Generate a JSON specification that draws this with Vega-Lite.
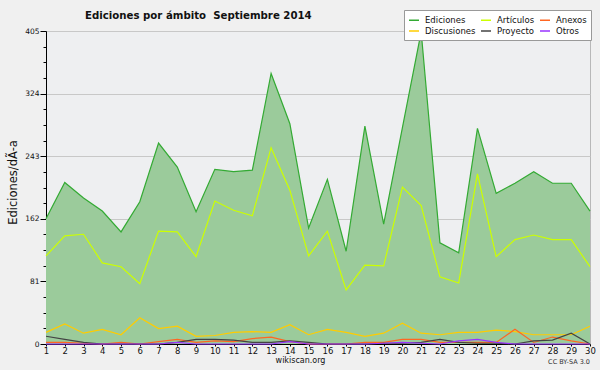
{
  "$schema": "https://vega.github.io/schema/vega-lite/v6.json",
  "width": 544,
  "height": 313,
  "autosize": "none",
  "padding": {"left": 46, "top": 31, "right": 10, "bottom": 26},
  "background": "#f0f0f0",
  "title": {
    "text": "Ediciones por ámbito\u00a0 Septiembre 2014",
    "anchor": "start",
    "frame": "group",
    "dx": 39,
    "offset": -19.5,
    "baseline": "alphabetic",
    "font": "DejaVu Sans",
    "fontSize": 10.2,
    "fontWeight": "bold",
    "color": "#111111"
  },
  "data": {
    "values": [
      {"d":1,"s":"Ediciones","v":162},{"d":2,"s":"Ediciones","v":209},{"d":3,"s":"Ediciones","v":189},{"d":4,"s":"Ediciones","v":172},{"d":5,"s":"Ediciones","v":145},{"d":6,"s":"Ediciones","v":184},{"d":7,"s":"Ediciones","v":260},{"d":8,"s":"Ediciones","v":229},{"d":9,"s":"Ediciones","v":171},{"d":10,"s":"Ediciones","v":226},{"d":11,"s":"Ediciones","v":223},{"d":12,"s":"Ediciones","v":225},{"d":13,"s":"Ediciones","v":350},{"d":14,"s":"Ediciones","v":285},{"d":15,"s":"Ediciones","v":150},{"d":16,"s":"Ediciones","v":213},{"d":17,"s":"Ediciones","v":120},{"d":18,"s":"Ediciones","v":282},{"d":19,"s":"Ediciones","v":155},{"d":20,"s":"Ediciones","v":280},{"d":21,"s":"Ediciones","v":404},{"d":22,"s":"Ediciones","v":131},{"d":23,"s":"Ediciones","v":118},{"d":24,"s":"Ediciones","v":279},{"d":25,"s":"Ediciones","v":195},{"d":26,"s":"Ediciones","v":208},{"d":27,"s":"Ediciones","v":223},{"d":28,"s":"Ediciones","v":208},{"d":29,"s":"Ediciones","v":208},{"d":30,"s":"Ediciones","v":172},
      {"d":1,"s":"Artículos","v":114},{"d":2,"s":"Artículos","v":140},{"d":3,"s":"Artículos","v":142},{"d":4,"s":"Artículos","v":105},{"d":5,"s":"Artículos","v":100},{"d":6,"s":"Artículos","v":78},{"d":7,"s":"Artículos","v":146},{"d":8,"s":"Artículos","v":145},{"d":9,"s":"Artículos","v":113},{"d":10,"s":"Artículos","v":185},{"d":11,"s":"Artículos","v":173},{"d":12,"s":"Artículos","v":166},{"d":13,"s":"Artículos","v":254},{"d":14,"s":"Artículos","v":199},{"d":15,"s":"Artículos","v":114},{"d":16,"s":"Artículos","v":146},{"d":17,"s":"Artículos","v":70},{"d":18,"s":"Artículos","v":102},{"d":19,"s":"Artículos","v":101},{"d":20,"s":"Artículos","v":203},{"d":21,"s":"Artículos","v":179},{"d":22,"s":"Artículos","v":87},{"d":23,"s":"Artículos","v":79},{"d":24,"s":"Artículos","v":220},{"d":25,"s":"Artículos","v":113},{"d":26,"s":"Artículos","v":135},{"d":27,"s":"Artículos","v":141},{"d":28,"s":"Artículos","v":135},{"d":29,"s":"Artículos","v":135},{"d":30,"s":"Artículos","v":100},
      {"d":1,"s":"Discusiones","v":15},{"d":2,"s":"Discusiones","v":26},{"d":3,"s":"Discusiones","v":14},{"d":4,"s":"Discusiones","v":19},{"d":5,"s":"Discusiones","v":12},{"d":6,"s":"Discusiones","v":34},{"d":7,"s":"Discusiones","v":20},{"d":8,"s":"Discusiones","v":23},{"d":9,"s":"Discusiones","v":10},{"d":10,"s":"Discusiones","v":11},{"d":11,"s":"Discusiones","v":15},{"d":12,"s":"Discusiones","v":16},{"d":13,"s":"Discusiones","v":15},{"d":14,"s":"Discusiones","v":25},{"d":15,"s":"Discusiones","v":12},{"d":16,"s":"Discusiones","v":19},{"d":17,"s":"Discusiones","v":15},{"d":18,"s":"Discusiones","v":10},{"d":19,"s":"Discusiones","v":14},{"d":20,"s":"Discusiones","v":27},{"d":21,"s":"Discusiones","v":14},{"d":22,"s":"Discusiones","v":12},{"d":23,"s":"Discusiones","v":15},{"d":24,"s":"Discusiones","v":15},{"d":25,"s":"Discusiones","v":18},{"d":26,"s":"Discusiones","v":16},{"d":27,"s":"Discusiones","v":12},{"d":28,"s":"Discusiones","v":12},{"d":29,"s":"Discusiones","v":12},{"d":30,"s":"Discusiones","v":23},
      {"d":1,"s":"Anexos","v":2},{"d":2,"s":"Anexos","v":2},{"d":3,"s":"Anexos","v":1},{"d":4,"s":"Anexos","v":0},{"d":5,"s":"Anexos","v":2},{"d":6,"s":"Anexos","v":0},{"d":7,"s":"Anexos","v":3},{"d":8,"s":"Anexos","v":6},{"d":9,"s":"Anexos","v":2},{"d":10,"s":"Anexos","v":4},{"d":11,"s":"Anexos","v":3},{"d":12,"s":"Anexos","v":7},{"d":13,"s":"Anexos","v":9},{"d":14,"s":"Anexos","v":3},{"d":15,"s":"Anexos","v":0},{"d":16,"s":"Anexos","v":0},{"d":17,"s":"Anexos","v":0},{"d":18,"s":"Anexos","v":2},{"d":19,"s":"Anexos","v":2},{"d":20,"s":"Anexos","v":6},{"d":21,"s":"Anexos","v":6},{"d":22,"s":"Anexos","v":2},{"d":23,"s":"Anexos","v":2},{"d":24,"s":"Anexos","v":2},{"d":25,"s":"Anexos","v":2},{"d":26,"s":"Anexos","v":19},{"d":27,"s":"Anexos","v":2},{"d":28,"s":"Anexos","v":9},{"d":29,"s":"Anexos","v":4},{"d":30,"s":"Anexos","v":0},
      {"d":1,"s":"Proyecto","v":10},{"d":2,"s":"Proyecto","v":6},{"d":3,"s":"Proyecto","v":2},{"d":4,"s":"Proyecto","v":0},{"d":5,"s":"Proyecto","v":0},{"d":6,"s":"Proyecto","v":0},{"d":7,"s":"Proyecto","v":0},{"d":8,"s":"Proyecto","v":2},{"d":9,"s":"Proyecto","v":6},{"d":10,"s":"Proyecto","v":6},{"d":11,"s":"Proyecto","v":5},{"d":12,"s":"Proyecto","v":2},{"d":13,"s":"Proyecto","v":2},{"d":14,"s":"Proyecto","v":4},{"d":15,"s":"Proyecto","v":2},{"d":16,"s":"Proyecto","v":0},{"d":17,"s":"Proyecto","v":0},{"d":18,"s":"Proyecto","v":0},{"d":19,"s":"Proyecto","v":1},{"d":20,"s":"Proyecto","v":1},{"d":21,"s":"Proyecto","v":2},{"d":22,"s":"Proyecto","v":6},{"d":23,"s":"Proyecto","v":2},{"d":24,"s":"Proyecto","v":1},{"d":25,"s":"Proyecto","v":1},{"d":26,"s":"Proyecto","v":0},{"d":27,"s":"Proyecto","v":4},{"d":28,"s":"Proyecto","v":5},{"d":29,"s":"Proyecto","v":14},{"d":30,"s":"Proyecto","v":0},
      {"d":1,"s":"Otros","v":0},{"d":2,"s":"Otros","v":0},{"d":3,"s":"Otros","v":0},{"d":4,"s":"Otros","v":0},{"d":5,"s":"Otros","v":0},{"d":6,"s":"Otros","v":0},{"d":7,"s":"Otros","v":0},{"d":8,"s":"Otros","v":2},{"d":9,"s":"Otros","v":0},{"d":10,"s":"Otros","v":0},{"d":11,"s":"Otros","v":0},{"d":12,"s":"Otros","v":0},{"d":13,"s":"Otros","v":0},{"d":14,"s":"Otros","v":3},{"d":15,"s":"Otros","v":0},{"d":16,"s":"Otros","v":0},{"d":17,"s":"Otros","v":0},{"d":18,"s":"Otros","v":0},{"d":19,"s":"Otros","v":1},{"d":20,"s":"Otros","v":2},{"d":21,"s":"Otros","v":1},{"d":22,"s":"Otros","v":0},{"d":23,"s":"Otros","v":4},{"d":24,"s":"Otros","v":6},{"d":25,"s":"Otros","v":2},{"d":26,"s":"Otros","v":0},{"d":27,"s":"Otros","v":0},{"d":28,"s":"Otros","v":0},{"d":29,"s":"Otros","v":0},{"d":30,"s":"Otros","v":0}
    ]
  },
  "layer": [
    {
      "encoding": {
        "x": {
          "field": "d", "type": "quantitative",
          "scale": {"domain": [1, 30], "nice": false},
          "axis": {
            "values": [1,2,3,4,5,6,7,8,9,10,11,12,13,14,15,16,17,18,19,20,21,22,23,24,25,26,27,28,29,30],
            "labelOverlap": false,
            "title": "wikiscan.org",
            "titleFontWeight": "normal"
          }
        },
        "y": {
          "field": "v", "type": "quantitative",
          "scale": {"domain": [0, 405], "nice": false},
          "axis": {
            "values": [0,20.25,40.5,60.75,81,101.25,121.5,141.75,162,182.25,202.5,222.75,243,263.25,283.5,303.75,324,344.25,364.5,384.75,405],
            "labelExpr": "datum.value % 81 === 0 ? datum.label : ''",
            "labelOverlap": false,
            "title": "Ediciones/dÃ-a",
            "titleFontWeight": "normal",
            "tickSize": {"condition": {"test": "datum.value % 81 === 0", "value": 6}, "value": 3},
            "gridOpacity": {"condition": {"test": "datum.value % 81 === 0", "value": 1}, "value": 0}
          }
        }
      },
      "layer": [
        {
          "transform": [{"filter": "datum.s === 'Ediciones'"}],
          "mark": {"type": "area", "fill": "#9bcb9b", "opacity": 1}
        },
        {
          "mark": {"type": "line", "strokeWidth": 1.2},
          "encoding": {
            "color": {
              "field": "s", "type": "nominal",
              "scale": {
                "domain": ["Ediciones", "Discusiones", "Artículos", "Proyecto", "Anexos", "Otros"],
                "range": ["#33aa33", "#ffcc00", "#ccff00", "#444444", "#ff6622", "#9933ff"]
              },
              "legend": {
                "title": null,
                "orient": "none",
                "legendX": 358,
                "legendY": -21,
                "columns": 3,
                "symbolType": "stroke",
                "symbolSize": 100,
                "symbolStrokeWidth": 1.5,
                "labelFont": "DejaVu Sans",
                "labelFontSize": 8.5,
                "labelColor": "#111111",
                "labelOffset": 5,
                "columnPadding": 2,
                "rowPadding": 0,
                "padding": 4,
                "fillColor": "#ffffff",
                "strokeColor": "#999999"
              }
            }
          }
        }
      ]
    },
    {
      "data": {"values": [{"t": "CC BY-SA 3.0"}]},
      "mark": {"type": "text", "align": "right", "baseline": "middle", "font": "DejaVu Sans", "fontSize": 6.5, "color": "#333333"},
      "encoding": {
        "x": {
          "datum": 30, "type": "quantitative",
          "axis": {
            "values": [1,2,3,4,5,6,7,8,9,10,11,12,13,14,15,16,17,18,19,20,21,22,23,24,25,26,27,28,29,30],
            "labelOverlap": false,
            "title": "wikiscan.org",
            "titleFontWeight": "normal"
          }
        },
        "y": {
          "datum": -23, "type": "quantitative",
          "axis": {
            "values": [0,20.25,40.5,60.75,81,101.25,121.5,141.75,162,182.25,202.5,222.75,243,263.25,283.5,303.75,324,344.25,364.5,384.75,405],
            "labelExpr": "datum.value % 81 === 0 ? datum.label : ''",
            "labelOverlap": false,
            "title": "Ediciones/dÃ-a",
            "titleFontWeight": "normal",
            "tickSize": {"condition": {"test": "datum.value % 81 === 0", "value": 6}, "value": 3},
            "gridOpacity": {"condition": {"test": "datum.value % 81 === 0", "value": 1}, "value": 0}
          }
        },
        "text": {"field": "t"}
      }
    }
  ],
  "config": {
    "view": {"fill": "#eeeff1", "stroke": "#b8b8b8"},
    "axis": {
      "labelFont": "DejaVu Sans",
      "labelColor": "#111111",
      "labelOverlap": false,
      "labelFlush": false,
      "domainColor": "#000000",
      "tickColor": "#000000",
      "titleFont": "DejaVu Sans",
      "titleFontWeight": "normal",
      "titleColor": "#111111"
    },
    "axisX": {
      "grid": false,
      "tickSize": 2,
      "labelPadding": 0,
      "labelFontSize": 8.5,
      "titleX": 254,
      "titleY": 12,
      "titleBaseline": "top",
      "titleFontSize": 8
    },
    "axisY": {
      "gridColor": "#c8c8c8",
      "labelPadding": 1,
      "labelFontSize": 7.5,
      "titleFontSize": 11.5,
      "titlePadding": 6,
      "titleY": 151
    }
  }
}
